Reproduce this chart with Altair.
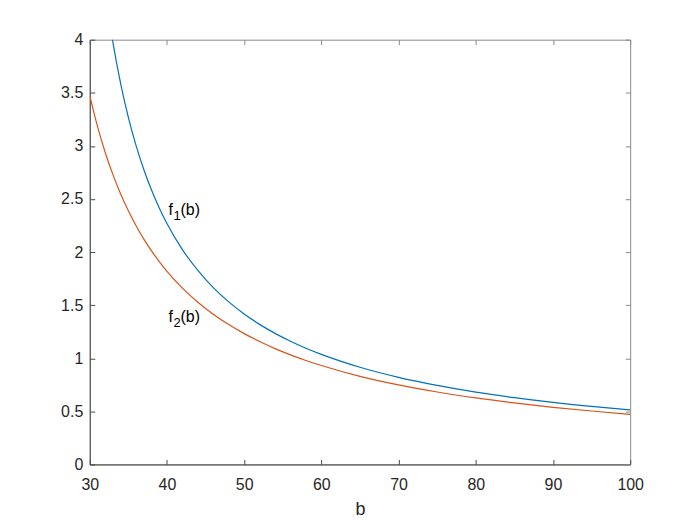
import altair as alt
import pandas as pd

# ---- data ----
b_f1 = [32, 33, 34, 35, 36, 37, 38, 39, 40, 42, 44, 46, 48, 50, 52, 54, 56, 58, 60,
        65, 70, 75, 80, 85, 90, 95, 100]
v_f1 = [4.457, 3.974, 3.587, 3.269, 3.003, 2.778, 2.584, 2.416, 2.269, 2.023, 1.827,
        1.665, 1.531, 1.417, 1.319, 1.234, 1.160, 1.094, 1.036,
        0.915, 0.820, 0.744, 0.681, 0.629, 0.584, 0.546, 0.513]

b_f2 = [30, 31, 32, 33, 34, 35, 36, 37, 38, 39, 40, 42, 44, 46, 48, 50, 52, 54, 56, 58, 60,
        65, 70, 75, 80, 85, 90, 95, 100]
v_f2 = [3.473, 3.183, 2.938, 2.729, 2.547, 2.388, 2.247, 2.122, 2.011, 1.910, 1.819,
        1.661, 1.528, 1.415, 1.317, 1.232, 1.158, 1.091, 1.032, 0.979, 0.932,
        0.830, 0.749, 0.682, 0.626, 0.579, 0.538, 0.503, 0.472]

series_names = ["f1", "f2"]
series_colors = ["#0072BD", "#D95319"]

label_x = [40.2, 40.2]
label_y = [2.40, 1.39]
label_sub = ["1", "2"]

x_ticks = [30, 40, 50, 60, 70, 80, 90, 100]
y_ticks = [0, 0.5, 1, 1.5, 2, 2.5, 3, 3.5, 4]

# ---- build tables ----
df = pd.concat([
    pd.DataFrame({"b": b_f1, "v": v_f1, "series": "f1"}),
    pd.DataFrame({"b": b_f2, "v": v_f2, "series": "f2"}),
])
lab = pd.DataFrame({"x": label_x, "y": label_y, "sub": label_sub})

W, H = 542, 426
FONT = "Liberation Sans"
AX = "#262626"
DOM = "#4a4a4a"
FRAME = "#8a8a8a"

xs = alt.Scale(domain=[30, 100], nice=False, zero=False)
ys = alt.Scale(domain=[0, 4], nice=False, zero=False)
color = alt.Color("series:N", scale=alt.Scale(domain=series_names, range=series_colors), legend=None)

ylabel_expr = "format(datum.value, '~g')"

base = alt.Chart(df)

main = base.mark_line(strokeWidth=1.2, clip=True, interpolate="monotone").encode(
    x=alt.X("b:Q", scale=xs, axis=alt.Axis(orient="bottom", values=x_ticks, ticks=False,
                                             domain=True, domainColor=DOM, domainWidth=1,
                                             grid=False, labelFont=FONT,
                                             labelFontSize=16, labelColor=AX, labelPadding=12,
                                             labelFlush=False,
                                             title="b", titleFont=FONT, titleFontSize=18,
                                             titleFontWeight="normal", titleColor=AX,
                                             titlePadding=8)),
    y=alt.Y("v:Q", scale=ys, axis=alt.Axis(orient="left", values=y_ticks, ticks=False,
                                             domain=True, domainColor=DOM, domainWidth=1,
                                             grid=False, labelFont=FONT,
                                             labelFontSize=16, labelColor=AX, labelPadding=7,
                                             labelFlush=False,
                                             labelExpr=ylabel_expr, title=None)),
    color=color,
    detail="series:N",
)

ticks_a = base.mark_line(strokeOpacity=0).encode(
    x=alt.X("b:Q", scale=xs, axis=alt.Axis(orient="top", offset=-H, values=x_ticks, labels=False,
                                             domain=False, grid=False, tickSize=5, tickColor=DOM,
                                             title=None)),
    y=alt.Y("v:Q", scale=ys, axis=alt.Axis(orient="right", offset=-W, values=y_ticks, labels=False,
                                             domain=False, grid=False, tickSize=5, tickColor=DOM,
                                             title=None)),
    detail="series:N",
)

ticks_b = base.mark_line(strokeOpacity=0).encode(
    x=alt.X("b:Q", scale=xs, axis=alt.Axis(orient="bottom", offset=-H, values=x_ticks, labels=False,
                                             domain=False, grid=False, tickSize=5, tickColor=FRAME,
                                             title=None)),
    y=alt.Y("v:Q", scale=ys, axis=alt.Axis(orient="left", offset=-W, values=y_ticks, labels=False,
                                             domain=False, grid=False, tickSize=5, tickColor=FRAME,
                                             title=None)),
    detail="series:N",
)

lbase = alt.Chart(lab).encode(x=alt.X("x:Q", scale=xs, axis=None), y=alt.Y("y:Q", scale=ys, axis=None))
t_f = lbase.mark_text(text="f", align="left", baseline="middle", font=FONT, fontSize=16, color="#000000")
t_sub = lbase.mark_text(align="left", baseline="middle", font=FONT, fontSize=13, color="#000000",
                        dx=5, dy=6).encode(text="sub:N")
t_b = lbase.mark_text(text="(b)", align="left", baseline="middle", font=FONT, fontSize=16,
                      color="#000000", dx=12)

chart = alt.layer(main, ticks_a, ticks_b, t_f, t_sub, t_b).resolve_axis(
    x="independent", y="independent"
).properties(
    width=W, height=H,
    background="white",
    autosize=alt.AutoSizeParams(type="none"),
    padding={"left": 82, "top": 31, "right": 60, "bottom": 70},
).configure_view(stroke=FRAME, strokeWidth=1)

chart.save("out.html", embed_options={"renderer": "svg", "actions": False})
